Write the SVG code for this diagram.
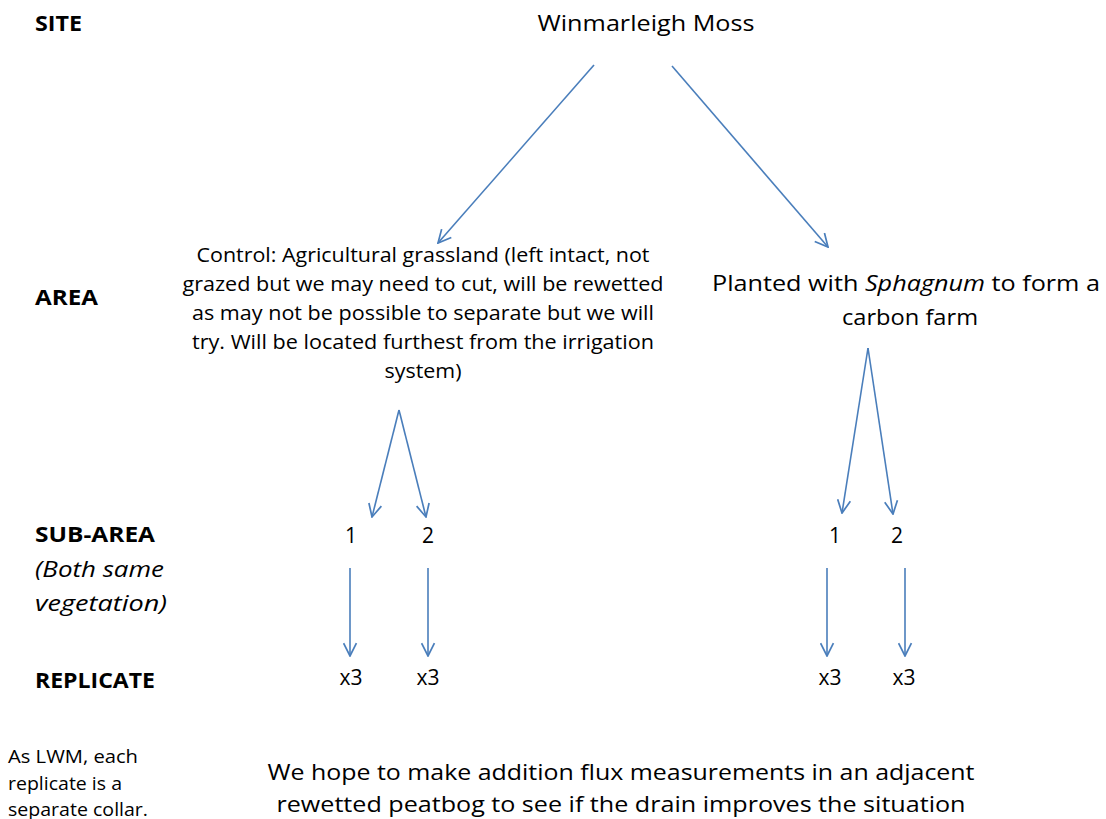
<svg xmlns="http://www.w3.org/2000/svg" width="1106" height="819" viewBox="0 0 1106 819">
  <style>
    text { font-family: "Open Sans", Lato, "Liberation Sans", sans-serif; fill: #000; }
    .lvl { font-size: 21px; font-weight: bold; }
    .note { font-size: 21px; font-style: italic; }
    .body { font-size: 20px; text-anchor: middle; }
    .big { font-size: 22px; text-anchor: middle; }
    .num { font-size: 21px; text-anchor: middle; }
    .small { font-size: 17.5px; }
    .link { stroke: #4a7ebb; stroke-width: 1.6; fill: none; }
  </style>
  <defs>
    <marker id="arrow" viewBox="0 0 14 14" refX="13" refY="7" markerWidth="15" markerHeight="15" markerUnits="userSpaceOnUse" orient="auto">
      <path d="M1,1 L13,7 L1,13" fill="none" stroke="#4a7ebb" stroke-width="1.6"/>
    </marker>
  </defs>

  <rect width="1106" height="819" fill="#fff"/>

  <!-- hierarchy level labels -->
  <g id="levels">
    <text class="lvl" x="35" y="31" textLength="47" lengthAdjust="spacingAndGlyphs">SITE</text>
    <text class="lvl" x="35" y="305" textLength="63" lengthAdjust="spacingAndGlyphs">AREA</text>
    <text class="lvl" x="35" y="542" textLength="120" lengthAdjust="spacingAndGlyphs">SUB-AREA</text>
    <text class="note" x="35" y="577" textLength="129" lengthAdjust="spacingAndGlyphs">(Both same</text>
    <text class="note" x="35" y="611" textLength="132" lengthAdjust="spacingAndGlyphs">vegetation)</text>
    <text class="lvl" x="35" y="688" textLength="120" lengthAdjust="spacingAndGlyphs">REPLICATE</text>
  </g>

  <g id="site">
    <text class="big" x="646" y="31" textLength="217" lengthAdjust="spacingAndGlyphs">Winmarleigh Moss</text>
  </g>

  <g id="area-control">
    <text class="body" x="423" y="262" textLength="453" lengthAdjust="spacingAndGlyphs">Control: Agricultural grassland (left intact, not</text>
    <text class="body" x="423" y="291" textLength="481" lengthAdjust="spacingAndGlyphs">grazed but we may need to cut, will be rewetted</text>
    <text class="body" x="423" y="320" textLength="462" lengthAdjust="spacingAndGlyphs">as may not be possible to separate but we will</text>
    <text class="body" x="423" y="349" textLength="462" lengthAdjust="spacingAndGlyphs">try. Will be located furthest from the irrigation</text>
    <text class="body" x="423" y="378" textLength="77" lengthAdjust="spacingAndGlyphs">system)</text>
  </g>

  <g id="area-sphagnum">
    <text class="big" x="906" y="291" textLength="388" lengthAdjust="spacingAndGlyphs">Planted with <tspan font-style="italic">Sphagnum</tspan> to form a</text>
    <text class="big" x="910" y="325" textLength="136" lengthAdjust="spacingAndGlyphs">carbon farm</text>
  </g>

  <g id="sub-control-1"><text class="num" x="351" y="543">1</text></g>
  <g id="sub-control-2"><text class="num" x="428" y="543">2</text></g>
  <g id="sub-sphagnum-1"><text class="num" x="835" y="543">1</text></g>
  <g id="sub-sphagnum-2"><text class="num" x="897" y="543">2</text></g>

  <g id="rep-control-1"><text class="num" x="351" y="685">x3</text></g>
  <g id="rep-control-2"><text class="num" x="428" y="685">x3</text></g>
  <g id="rep-sphagnum-1"><text class="num" x="830" y="685">x3</text></g>
  <g id="rep-sphagnum-2"><text class="num" x="904" y="685">x3</text></g>

  <g id="collar-note">
    <text class="small" x="8" y="763" textLength="130" lengthAdjust="spacingAndGlyphs">As LWM, each</text>
    <text class="small" x="8" y="790" textLength="114" lengthAdjust="spacingAndGlyphs">replicate is a</text>
    <text class="small" x="8" y="816" textLength="140" lengthAdjust="spacingAndGlyphs">separate collar.</text>
  </g>

  <g id="flux-note">
    <text class="big" x="621" y="780" textLength="707" lengthAdjust="spacingAndGlyphs">We hope to make addition flux measurements in an adjacent</text>
    <text class="big" x="621" y="812" textLength="689" lengthAdjust="spacingAndGlyphs">rewetted peatbog to see if the drain improves the situation</text>
  </g>

  <g id="connectors">
    <line class="link" x1="594" y1="65" x2="438" y2="243" marker-end="url(#arrow)"/>
    <line class="link" x1="672" y1="66" x2="828" y2="247" marker-end="url(#arrow)"/>
    <line class="link" x1="399" y1="410" x2="372" y2="517" marker-end="url(#arrow)"/>
    <line class="link" x1="399" y1="410" x2="426" y2="517" marker-end="url(#arrow)"/>
    <line class="link" x1="868" y1="348" x2="842" y2="513" marker-end="url(#arrow)"/>
    <line class="link" x1="868" y1="348" x2="893" y2="514" marker-end="url(#arrow)"/>
    <line class="link" x1="350" y1="568" x2="350" y2="656" marker-end="url(#arrow)"/>
    <line class="link" x1="428" y1="568" x2="428" y2="656" marker-end="url(#arrow)"/>
    <line class="link" x1="827" y1="568" x2="827" y2="656" marker-end="url(#arrow)"/>
    <line class="link" x1="905" y1="568" x2="905" y2="656" marker-end="url(#arrow)"/>
  </g>
</svg>
